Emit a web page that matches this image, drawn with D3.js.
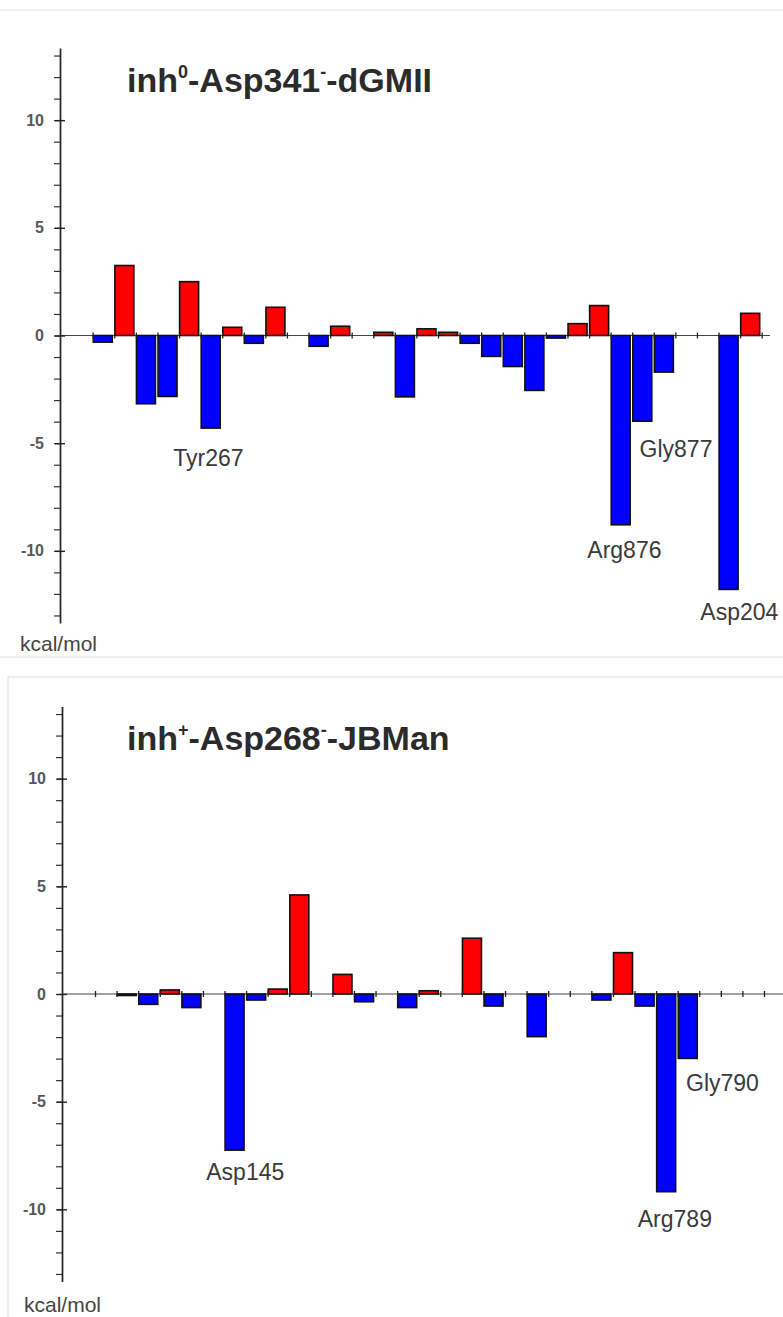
<!DOCTYPE html>
<html>
<head>
<meta charset="utf-8">
<script src="https://cdn.jsdelivr.net/npm/d3@7"></script>
<style>
  body { margin: 0; background: #fff; }
  svg { display: block; }
</style>
</head>
<body>
<div id="chart"></div>
<script>
// Per-residue interaction energies (kcal/mol), one entry per slot on the x axis; null = empty slot
const topValues = [-0.31, 3.25, -3.17, -2.83, 2.5, -4.3, 0.38, -0.36, 1.31, null,
  -0.5, 0.43, null, 0.15, -2.85, 0.31, 0.15, -0.36, -0.97, -1.44,
  -2.55, -0.12, 0.55, 1.39, -8.79, -3.98, -1.7, null, null, -11.79, 1.03];
const topLabels = [
  { slot: 5, name: 'Tyr267' },
  { slot: 25, name: 'Gly877' },
  { slot: 24, name: 'Arg876' },
  { slot: 29, name: 'Asp204' }
];

const bottomValues = [null, -0.07, -0.48, 0.19, -0.63, null, -7.25, -0.28, 0.23, 4.6,
  null, 0.91, -0.36, null, -0.63, 0.15, null, 2.59, -0.56, null,
  -1.98, null, null, -0.28, 1.92, -0.56, -9.18, -2.99, null, null, null, null];
const bottomLabels = [
  { slot: 6, name: 'Asp145' },
  { slot: 26, name: 'Arg789' },
  { slot: 27, name: 'Gly790' }
];

const yMajorTicks = [-10, -5, 0, 5, 10];
const yMinorTicks = d3.range(-13, 14);
const unitLabel = 'kcal/mol';

const FONT = '"Liberation Sans", Arial, Helvetica, sans-serif';
const W = 783, H = 1317;

const svg = d3.select('#chart')
  .append('svg')
  .attr('width', W)
  .attr('height', H)
  .style('font-family', FONT);

// panel frames
svg.append('rect')
  .attr('x', -2).attr('y', 10)
  .attr('width', W + 4).attr('height', 647)
  .attr('fill', 'none')
  .attr('stroke', '#e2e2e2');

svg.append('rect')
  .attr('x', 8).attr('y', 677)
  .attr('width', W).attr('height', H)
  .attr('fill', 'none')
  .attr('stroke', '#dcdcdc');

const panels = [
  {
    values: topValues,
    labels: topLabels,
    labelShift: [[-3, 38], [33, 36], [3, 33], [10, 31]],
    title: [['inh', false], ['0', true], ['-Asp341', false], ['-', true], ['-dGMII', false]],
    axisX: 60, top: 48, bottom: 623, x0: 92.7, step: 21.58, axisEnd: 770,
    titleY: 92, unitX: 20, unitY: 651
  },
  {
    values: bottomValues,
    labels: bottomLabels,
    labelShift: [[10, 30], [8, 35], [34, 33]],
    title: [['inh', false], ['+', true], ['-Asp268', false], ['-', true], ['-JBMan', false]],
    axisX: 62, top: 706.5, bottom: 1281.5, x0: 95, step: 21.58, axisEnd: 790,
    titleY: 750, unitX: 24, unitY: 1312
  }
];

panels.forEach(p => drawPanel(p));

function drawPanel(p) {
  const g = svg.append('g');
  const n = p.values.length;

  const y = d3.scaleLinear()
    .domain([-13.35, 13.35])
    .range([p.bottom, p.top]);

  const x = d3.scaleLinear()
    .domain([0, n])
    .range([p.x0, p.x0 + n * p.step]);

  const bars = p.values
    .map((v, i) => ({ i, v }))
    .filter(d => d.v !== null);

  // zero line
  g.append('line')
    .attr('x1', p.axisX)
    .attr('x2', p.axisEnd)
    .attr('y1', y(0))
    .attr('y2', y(0))
    .attr('stroke', '#444')
    .attr('stroke-width', 1.2);

  // bars
  g.selectAll('.bar')
    .data(bars)
    .enter()
    .append('rect')
    .attr('class', 'bar')
    .attr('x', d => x(d.i) + 0.6)
    .attr('width', d => x(d.i + 1) - x(d.i) - 2.6)
    .attr('y', d => y(Math.max(0, d.v)))
    .attr('height', d => Math.abs(y(d.v) - y(0)))
    .attr('fill', d => d.v >= 0 ? '#ff0000' : '#0000ff')
    .attr('stroke', '#111')
    .attr('stroke-width', 1.6);

  // x ticks at slot boundaries, crossing the zero line
  const xAxis = g.append('g')
    .attr('transform', `translate(0,${y(0)})`)
    .call(d3.axisBottom(x).tickValues(d3.range(0, n + 1)).tickSize(3).tickFormat(''));
  xAxis.select('.domain').remove();
  xAxis.selectAll('.tick line')
    .attr('y1', -3)
    .attr('stroke', '#222')
    .attr('stroke-width', 1.3);

  // y axis: minor ticks every unit
  const yMinor = g.append('g')
    .attr('transform', `translate(${p.axisX},0)`)
    .call(d3.axisLeft(y).tickValues(yMinorTicks).tickSize(6).tickSizeOuter(0).tickFormat(''));
  yMinor.select('.domain')
    .attr('stroke', '#222')
    .attr('stroke-width', 1.7);
  yMinor.selectAll('.tick line')
    .attr('stroke', '#333')
    .attr('stroke-width', 1.2);

  // y axis: labelled major ticks
  const yMajor = g.append('g')
    .attr('transform', `translate(${p.axisX},0)`)
    .call(d3.axisLeft(y).tickValues(yMajorTicks).tickSize(5).tickPadding(11).tickFormat(d => String(d)));
  yMajor.select('.domain').remove();
  yMajor.attr('font-family', FONT).attr('font-size', 16);
  yMajor.selectAll('.tick line')
    .attr('x1', 5)
    .attr('stroke', '#222')
    .attr('stroke-width', 1.4);
  yMajor.selectAll('.tick text')
    .attr('fill', '#585858')
    .attr('font-weight', 'bold');

  // residue labels under the key bars
  g.selectAll('.res-label')
    .data(p.labels)
    .enter()
    .append('text')
    .attr('class', 'res-label')
    .attr('x', (d, k) => (x(d.slot) + x(d.slot + 1)) / 2 + p.labelShift[k][0])
    .attr('y', (d, k) => y(p.values[d.slot]) + p.labelShift[k][1])
    .attr('text-anchor', 'middle')
    .attr('font-size', 23)
    .attr('fill', '#3a3a3a')
    .text(d => d.name);

  // title with superscript charges
  const title = g.append('text')
    .attr('x', 127)
    .attr('y', p.titleY)
    .attr('font-size', 34)
    .attr('font-weight', 'bold')
    .attr('fill', '#2b2b2b');
  let raised = false;
  p.title.forEach(([txt, sup]) => {
    const t = title.append('tspan').text(txt);
    if (sup && !raised) { t.attr('dy', -14).attr('font-size', 18); raised = true; }
    else if (!sup && raised) { t.attr('dy', 14); raised = false; }
  });

  // unit
  g.append('text')
    .attr('x', p.unitX)
    .attr('y', p.unitY)
    .attr('font-size', 21)
    .attr('fill', '#444')
    .text(unitLabel);
}
</script>
</body>
</html>
